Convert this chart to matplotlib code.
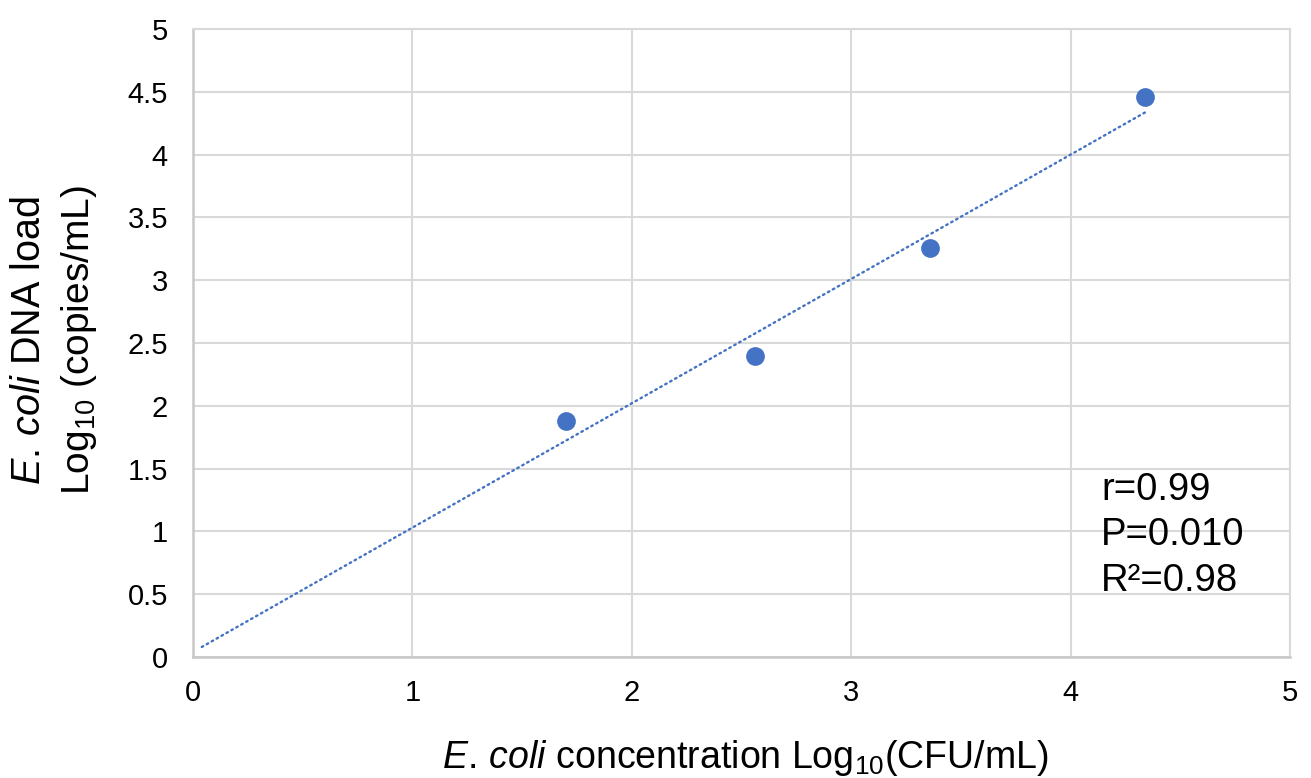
import numpy as np
import matplotlib
matplotlib.use("Agg")
import matplotlib.pyplot as plt

plt.rcParams['font.family'] = ['Liberation Sans', 'DejaVu Sans']
plt.rcParams['mathtext.fontset'] = 'custom'
plt.rcParams['mathtext.rm'] = 'Liberation Sans'
plt.rcParams['mathtext.it'] = 'Liberation Sans:italic'

# Data
concentration = [1.70, 2.56, 3.36, 4.34]      # Log10(CFU/mL)
dna_load = [1.88, 2.40, 3.26, 4.46]           # Log10(copies/mL)
x_ticks = [0, 1, 2, 3, 4, 5]
y_ticks = [0, 0.5, 1, 1.5, 2, 2.5, 3, 3.5, 4, 4.5, 5]
y_tick_labels = ['0', '0.5', '1', '1.5', '2', '2.5', '3', '3.5', '4', '4.5', '5']
stats_lines = ['r=0.99', 'P=0.010', 'R\u00b2=0.98']
trend_start = 0.04

BLUE = '#4472C4'
GRID = '#D9D9D9'

fig = plt.figure(figsize=(13.11, 7.78), dpi=100)
ax = fig.add_axes([193/1311, 1 - 657/778, (1290-193)/1311, (657-29)/778])

# Trendline (least squares)
slope, intercept = np.polyfit(concentration, dna_load, 1)
xt = np.array([trend_start, max(concentration)])
ax.plot(xt, slope * xt + intercept, color=BLUE, lw=1.7,
        linestyle=(0, (0.7, 1.7)), dash_capstyle='round', zorder=2)

ax.scatter(concentration, dna_load, s=13.5**2, color=BLUE, zorder=3, linewidths=0)

ax.set_xlim(0, 5)
ax.set_ylim(0, 5)
ax.set_xticks(x_ticks)
ax.set_xticklabels([str(t) for t in x_ticks])
ax.set_yticks(y_ticks)
ax.set_yticklabels(y_tick_labels)
ax.tick_params(axis='both', length=0, labelsize=21, colors='#000000')
ax.tick_params(axis='x', pad=16)
ax.tick_params(axis='y', pad=18)
ax.grid(True, color=GRID, lw=1.5)
ax.set_axisbelow(True)
for side in ['top', 'right']:
    ax.spines[side].set_color(GRID)
    ax.spines[side].set_linewidth(1.5)
for side in ['left', 'bottom']:
    ax.spines[side].set_color('#C8C8C8')
    ax.spines[side].set_linewidth(1.8)

# Stats annotation
for i, s in enumerate(stats_lines):
    ax.text(4.14, 1.25 - i * 0.362, s, fontsize=27.5, va='baseline', ha='left')

# Axis labels
fig.text(745/1311, 1 - 768/778,
         r"$\mathit{E.\,coli}$ concentration Log$_{\mathregular{10}}$(CFU/mL)",
         fontsize=27, ha='center', va='baseline')
fig.text(29/1311, 1 - 340/778, r"$\mathit{E.\,coli}$ DNA load",
         fontsize=28.5, rotation=90, ha='center', va='center')
fig.text(79/1311, 1 - 340/778, r"Log$_{\mathregular{10}}$ (copies/mL)",
         fontsize=28, rotation=90, ha='center', va='center')

fig.savefig('out.png', dpi=100)
